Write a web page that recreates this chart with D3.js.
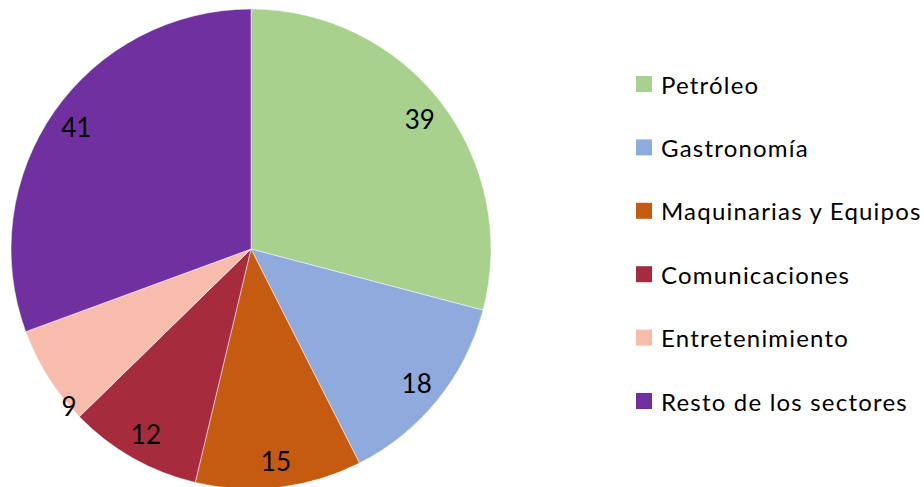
<!DOCTYPE html>
<html>
<head>
<meta charset="utf-8">
<script src="https://cdn.jsdelivr.net/npm/d3@7"></script>
<style>
  body { margin: 0; background: #fff; }
  svg { display: block; font-family: Lato, "Open Sans", sans-serif; }
</style>
</head>
<body>
<div id="chart"></div>
<script>
const categories = ["Petróleo", "Gastronomía", "Maquinarias y Equipos", "Comunicaciones", "Entretenimiento", "Resto de los sectores"];
const values = [39, 18, 15, 12, 9, 41];
const colors = ["#A9D18E", "#8FAADC", "#C55A11", "#A52B3D", "#F8BCAD", "#7030A0"];

const width = 924, height = 487;
const cx = 251, cy = 249, radius = 240;

const svg = d3.select("#chart").append("svg")
  .attr("width", width)
  .attr("height", height);

const data = categories.map((c, i) => ({ name: c, value: values[i], color: colors[i] }));

const pie = d3.pie().value(d => d.value).sort(null);
const arc = d3.arc().innerRadius(0).outerRadius(radius);
const arcs = pie(data);

const g = svg.append("g").attr("transform", `translate(${cx},${cy})`);

g.selectAll("path.slice")
  .data(arcs)
  .join("path")
  .attr("class", "slice")
  .attr("d", arc)
  .attr("fill", d => d.data.color)
  .attr("stroke", "#fff")
  .attr("stroke-width", 0.5);

// labels sit near the outer edge; tiny slices get pushed onto the rim
const labelPos = d => {
  const small = d.value < 10;
  const a = small ? d.startAngle + (d.endAngle - d.startAngle) * 0.15 : (d.startAngle + d.endAngle) / 2;
  const r = small ? radius : 213;
  return [Math.sin(a) * r, -Math.cos(a) * r];
};

g.selectAll("text.label")
  .data(arcs)
  .join("text")
  .attr("class", "label")
  .attr("x", d => labelPos(d)[0])
  .attr("y", d => labelPos(d)[1])
  .attr("text-anchor", "middle")
  .attr("dominant-baseline", "central")
  .attr("font-size", 26)
  .attr("fill", "#000")
  .text(d => d.value);

// legend
const ly = d3.scalePoint().domain(categories).range([84, 401]);
const legend = svg.append("g");

const item = legend.selectAll("g.item")
  .data(data)
  .join("g")
  .attr("class", "item")
  .attr("transform", d => `translate(636,${ly(d.name)})`);

item.append("rect")
  .attr("x", 0)
  .attr("y", -8)
  .attr("width", 16)
  .attr("height", 16)
  .attr("fill", d => d.color);

item.append("text")
  .attr("x", 25)
  .attr("y", 0)
  .attr("dominant-baseline", "central")
  .attr("font-size", 24)
  .attr("letter-spacing", 1.2)
  .attr("fill", "#000")
  .text(d => d.name);
</script>
</body>
</html>
